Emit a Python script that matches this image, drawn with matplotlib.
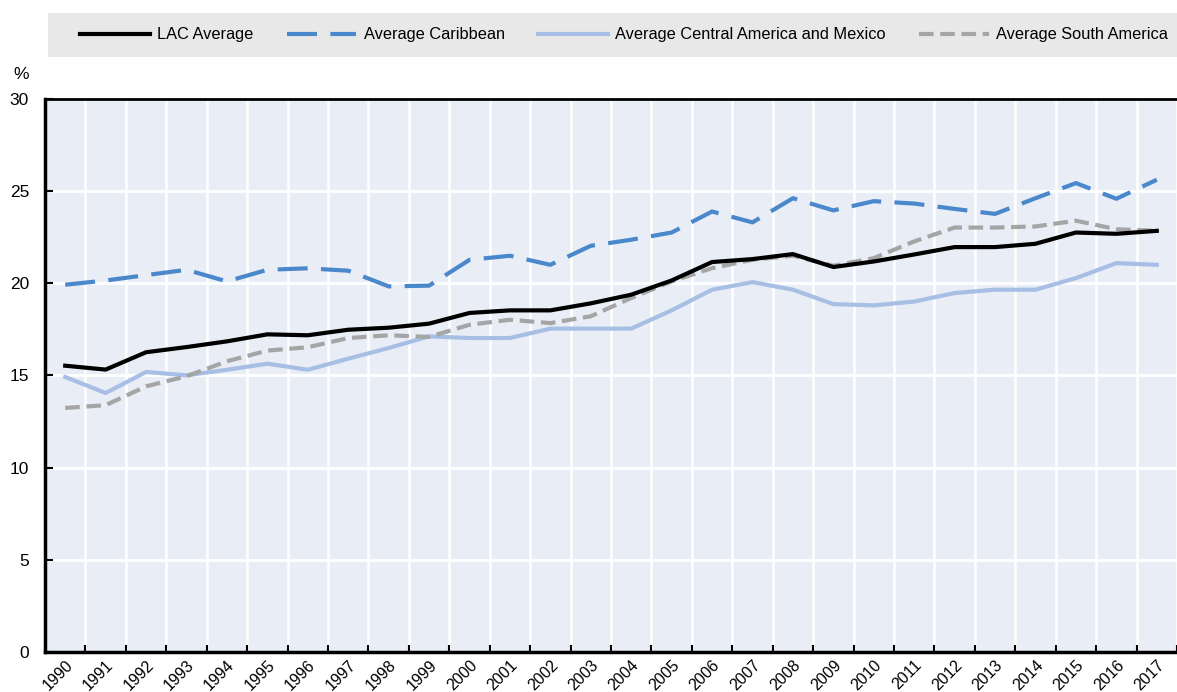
import numpy as np
import matplotlib
matplotlib.use("Agg")
import matplotlib.pyplot as plt
from matplotlib.patches import Rectangle
from matplotlib.lines import Line2D

plt.rcParams["font.family"] = ["Liberation Sans", "DejaVu Sans"]

years = list(range(1990, 2018))
lac = [15.52, 15.31, 16.25, 16.53, 16.84, 17.22, 17.17, 17.47, 17.58, 17.80, 18.38, 18.52, 18.52, 18.90,
       19.37, 20.14, 21.14, 21.30, 21.57, 20.87, 21.17, 21.55, 21.95, 21.95, 22.13, 22.74, 22.67, 22.83]
caribbean = [19.91, 20.14, 20.43, 20.72, 20.09, 20.72, 20.80, 20.67, 19.82, 19.86, 21.26, 21.48, 20.99, 22.02,
             22.35, 22.74, 23.88, 23.29, 24.60, 23.94, 24.44, 24.31, 24.02, 23.75, 24.60, 25.42, 24.57, 25.60]
central = [14.91, 14.04, 15.18, 15.00, 15.30, 15.63, 15.30, 15.90, 16.48, 17.11, 17.02, 17.02, 17.53, 17.53,
           17.53, 18.52, 19.64, 20.05, 19.64, 18.86, 18.79, 19.00, 19.46, 19.64, 19.64, 20.27, 21.08, 20.99]
south = [13.23, 13.38, 14.40, 14.95, 15.76, 16.34, 16.52, 17.02, 17.17, 17.08, 17.74, 18.01, 17.83, 18.20,
         19.19, 20.09, 20.81, 21.26, 21.48, 20.94, 21.35, 22.26, 23.01, 23.01, 23.07, 23.38, 22.92, 22.83]
labels = ["LAC Average", "Average Caribbean", "Average Central America and Mexico", "Average South America"]

C_LAC, C_CAR, C_CEN, C_SOU = "#000000", "#4a88cb", "#a8bfe5", "#a5a5a5"
DASH_CAR = (0, (7.2, 3.2))
DASH_SOU = (0, (3.5, 1.6))
x = np.arange(len(years))

fig = plt.figure(figsize=(11.77, 6.92), dpi=100)
ax = fig.add_axes([45 / 1177, 1 - 652 / 692, 1 - 45 / 1177, (652 - 98.6) / 692])
ax.set_facecolor("#e9edf6")

ax.plot(x, central, color=C_CEN, lw=3.0, zorder=3)
ax.plot(x, south, color=C_SOU, lw=3.0, ls=DASH_SOU, zorder=4)
ax.plot(x, caribbean, color=C_CAR, lw=3.0, ls=DASH_CAR, zorder=4)
ax.plot(x, lac, color=C_LAC, lw=3.0, zorder=5)

ax.set_xlim(-0.5, 27.18)
ax.set_ylim(0, 30)
ax.set_yticks(range(0, 31, 5))
ax.set_xticks(x)
ax.set_xticklabels([str(y) for y in years], rotation=45, ha="right", va="top", rotation_mode="anchor")
ax.set_xticks(np.arange(-0.5, 28, 1), minor=True)
ax.tick_params(axis="x", which="major", length=0, labelsize=11.5, pad=4)
ax.tick_params(axis="x", which="minor", direction="in", length=5, width=1.5, color="black")
ax.tick_params(axis="y", direction="in", length=6, width=1.5, labelsize=12.5, pad=11.5)
ax.grid(True, axis="y", color="white", lw=2)
ax.grid(True, axis="x", which="minor", color="white", lw=1.8)
ax.set_axisbelow(True)
for s in ("left", "bottom"):
    ax.spines[s].set_linewidth(2.5)
ax.spines["top"].set_linewidth(2)
ax.spines["right"].set_visible(False)
ax.text(-0.014, 1.043, "%", transform=ax.transAxes, ha="right", va="center", fontsize=12.5)

# legend band
fig.patches.append(Rectangle((48 / 1177, 1 - 57 / 692), 1.0, 44.5 / 692, transform=fig.transFigure,
                             facecolor="#e8e8e8", edgecolor="none", zorder=0))
handles = [Line2D([], [], color=C_LAC, lw=3.0),
           Line2D([], [], color=C_CAR, lw=3.0, ls=DASH_CAR),
           Line2D([], [], color=C_CEN, lw=3.0),
           Line2D([], [], color=C_SOU, lw=3.0, ls=DASH_SOU)]
fig.legend(handles, labels, ncol=4, loc="center", bbox_to_anchor=(624 / 1177, 1 - 34.8 / 692),
           frameon=False, fontsize=11.8, handlelength=4.25, handletextpad=0.43, columnspacing=2.05,
           borderaxespad=0, borderpad=0)

fig.savefig("out.png", dpi=100)
